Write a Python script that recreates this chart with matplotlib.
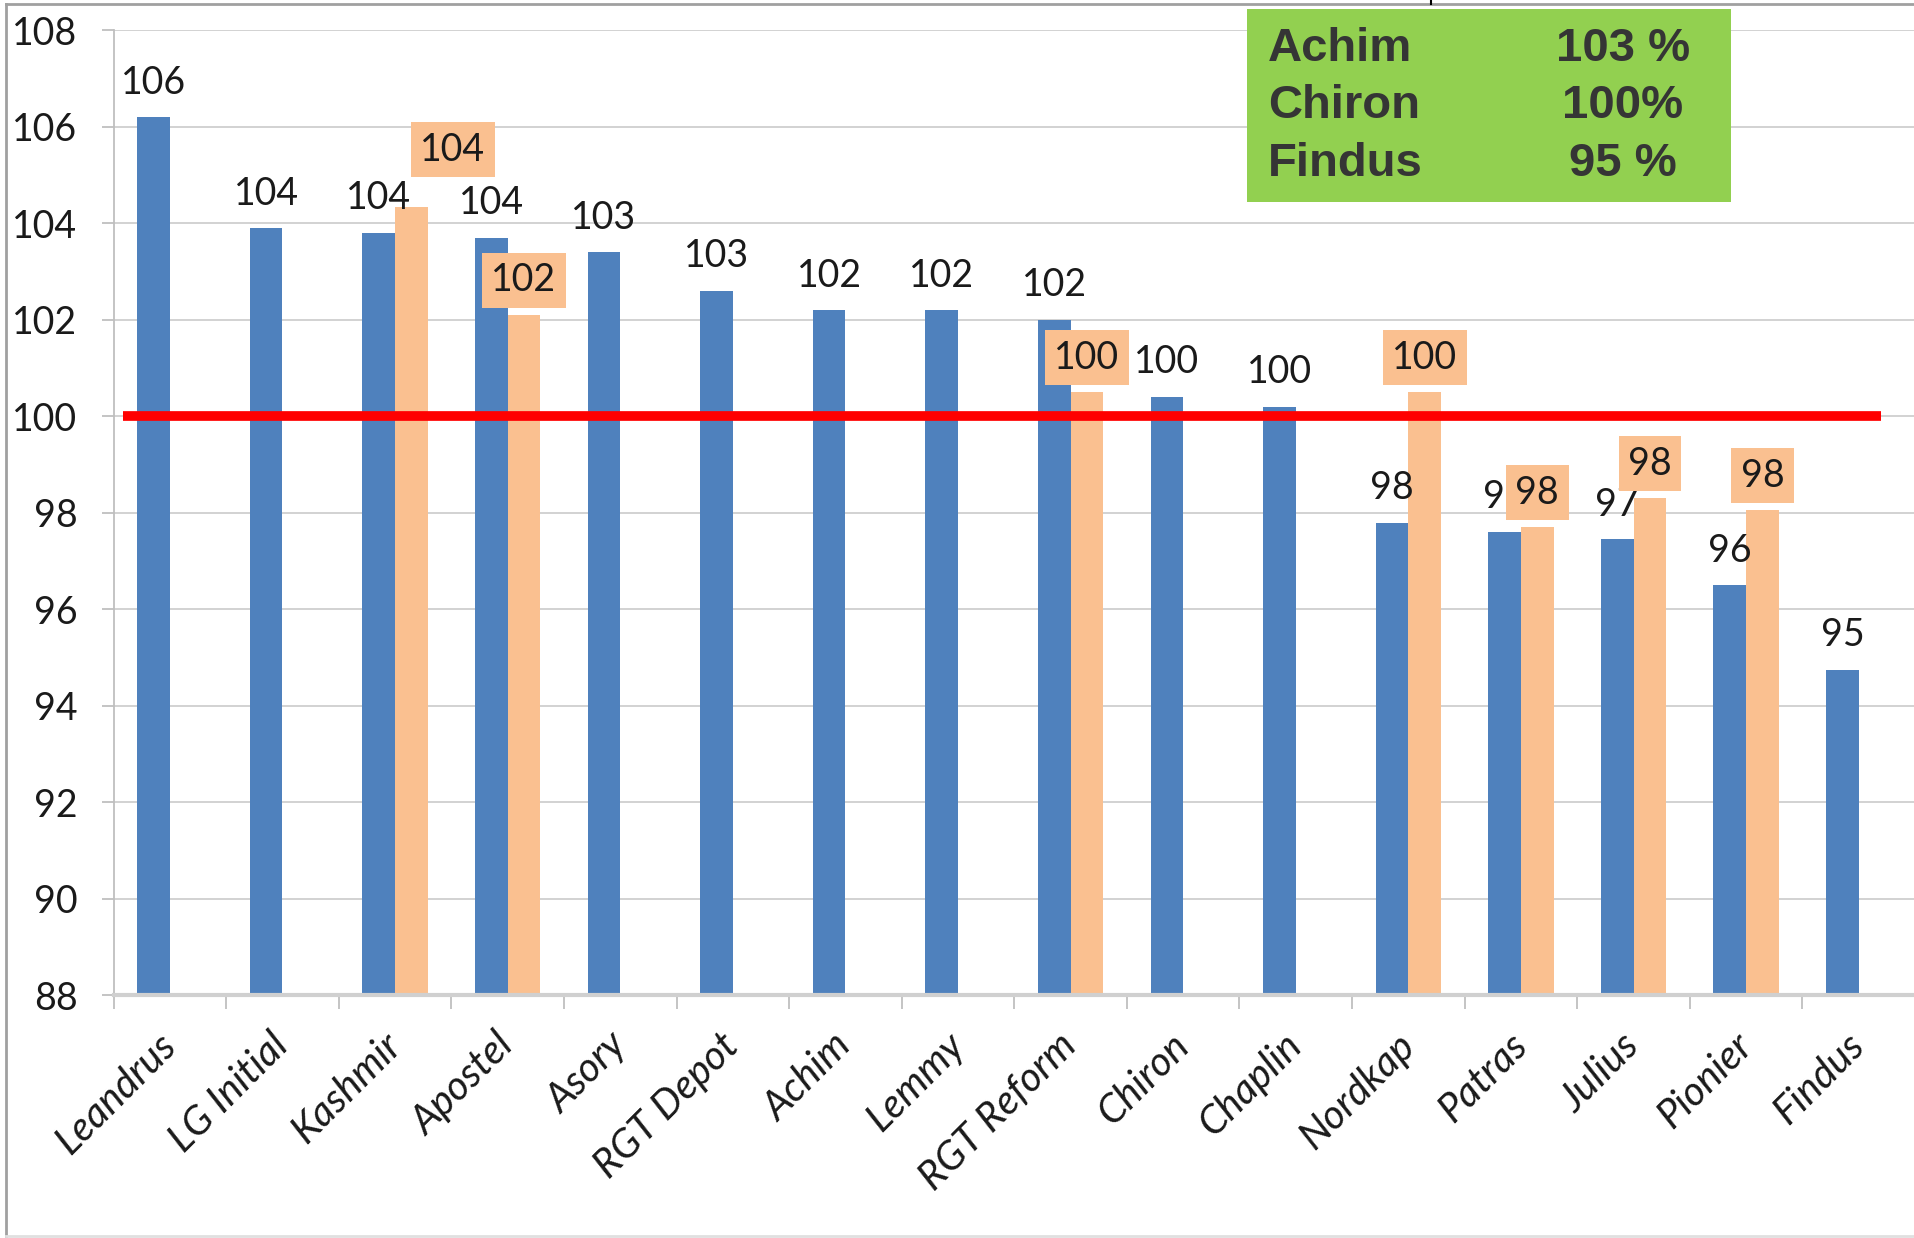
import numpy as np
import matplotlib.pyplot as plt
from matplotlib.lines import Line2D
from matplotlib.patches import Rectangle

plt.rcParams['font.family'] = ['Lato', 'DejaVu Sans']

# data
varieties = ['Leandrus', 'LG Initial', 'Kashmir', 'Apostel', 'Asory', 'RGT Depot',
             'Achim', 'Lemmy', 'RGT Reform', 'Chiron', 'Chaplin', 'Nordkap',
             'Patras', 'Julius', 'Pionier', 'Findus']
blue_vals = [106.2, 103.9, 103.8, 103.7, 103.4, 102.6, 102.2, 102.2, 102.0,
             100.4, 100.2, 97.8, 97.6, 97.45, 96.5, 94.75]
orange_vals = [np.nan, np.nan, 104.35, 102.1, np.nan, np.nan, np.nan, np.nan, 100.5,
               np.nan, np.nan, 100.5, 97.7, 98.3, 98.05, np.nan]
ref_level = 100
box_names = ['Achim', 'Chiron', 'Findus']
box_values = ['103 %', '100%', '95 %']

blue = '#4f81bd'
orange = '#fac090'
grid_c = '#cfcfcf'
txt_c = '#1a1a1a'

fig = plt.figure(figsize=(19.15, 12.38), dpi=100)
ax = fig.add_axes([0.0593, 0.196, 0.9407, 0.7794])

x = np.arange(len(varieties))
w = 0.29
ax.bar(x - w / 2, blue_vals, width=w, color=blue, zorder=2)
ax.bar(x + w / 2, orange_vals, width=w, color=orange, zorder=2)

ax.set_xlim(-0.5, len(varieties) - 0.5)
ax.set_ylim(88, 108)
ax.set_yticks(np.arange(88, 109, 2))
ax.grid(axis='y', color=grid_c, lw=1.3, zorder=0)
ax.set_axisbelow(True)

# reference line
ax.hlines(ref_level, -0.42, 15.2, color='#ff0000', lw=7, zorder=4)

# labels on blue bars
for i, v in enumerate(blue_vals):
    ax.annotate('{:.0f}'.format(v), (i - w / 2, v), xytext=(0, 25),
                textcoords='offset points', ha='center', va='center',
                fontsize=27, color=txt_c, zorder=5)

# boxed labels on orange bars (Kashmir one pushed up and right)
for i, v in enumerate(orange_vals):
    if np.isnan(v):
        continue
    off = (30, 41) if varieties[i] == 'Kashmir' else (0, 25)
    ax.annotate('{:.0f}'.format(v), (i + w / 2, v), xytext=off,
                textcoords='offset points', ha='center', va='center',
                fontsize=27, color=txt_c, zorder=6,
                bbox=dict(boxstyle='square,pad=0.25', fc=orange, ec='none'))

# axes styling
for s in ['top', 'right']:
    ax.spines[s].set_visible(False)
ax.spines['left'].set_color('#bfbfbf')
ax.spines['left'].set_linewidth(1.3)
ax.spines['bottom'].set_color('#d0d0d0')
ax.spines['bottom'].set_linewidth(3)

ax.set_xticks(np.arange(-0.5, len(varieties), 1))
ax.set_xticklabels([])
ax.tick_params(axis='x', which='major', length=10, width=1.3, color='#bfbfbf')
ax.set_xticks(x, minor=True)
ax.set_xticklabels(varieties, minor=True, rotation=45, ha='right', va='center',
                   rotation_mode='anchor', fontsize=29, style='italic', color=txt_c)
ax.tick_params(axis='x', which='minor', length=0, pad=32)
ax.tick_params(axis='y', length=9, width=1.3, color='#bfbfbf', labelsize=27,
               labelcolor=txt_c, pad=17)

# green summary box
fig.patches.append(Rectangle((0.6512, 0.8372), 0.2527, 0.1559, transform=fig.transFigure,
                             fc='#92d050', ec='none', zorder=5))
rows_y = [0.9604, 0.9144, 0.8675]
for name, val, yy in zip(box_names, box_values, rows_y):
    fig.text(0.6621, yy, name, ha='left', va='center', fontsize=34, fontweight='bold',
             family='Liberation Sans', color='#353535', zorder=6)
    fig.text(0.8475, yy, val, ha='center', va='center', fontsize=34, fontweight='bold',
             family='Liberation Sans', color='#353535', zorder=6)

# screenshot frame
fig.lines.append(Line2D([0.0031, 0.0031], [0, 0.9968], transform=fig.transFigure,
                        color='#a0a0a0', lw=2))
fig.lines.append(Line2D([0.0031, 1], [0.9968, 0.9968], transform=fig.transFigure,
                        color='#a0a0a0', lw=2))
fig.lines.append(Line2D([0.0031, 1], [0.0015, 0.0015], transform=fig.transFigure,
                        color='#e0e0e0', lw=2))
fig.lines.append(Line2D([0.7473, 0.7473], [0.9968, 1], transform=fig.transFigure,
                        color='#000000', lw=1.5))

fig.savefig('out.png', dpi=100)
